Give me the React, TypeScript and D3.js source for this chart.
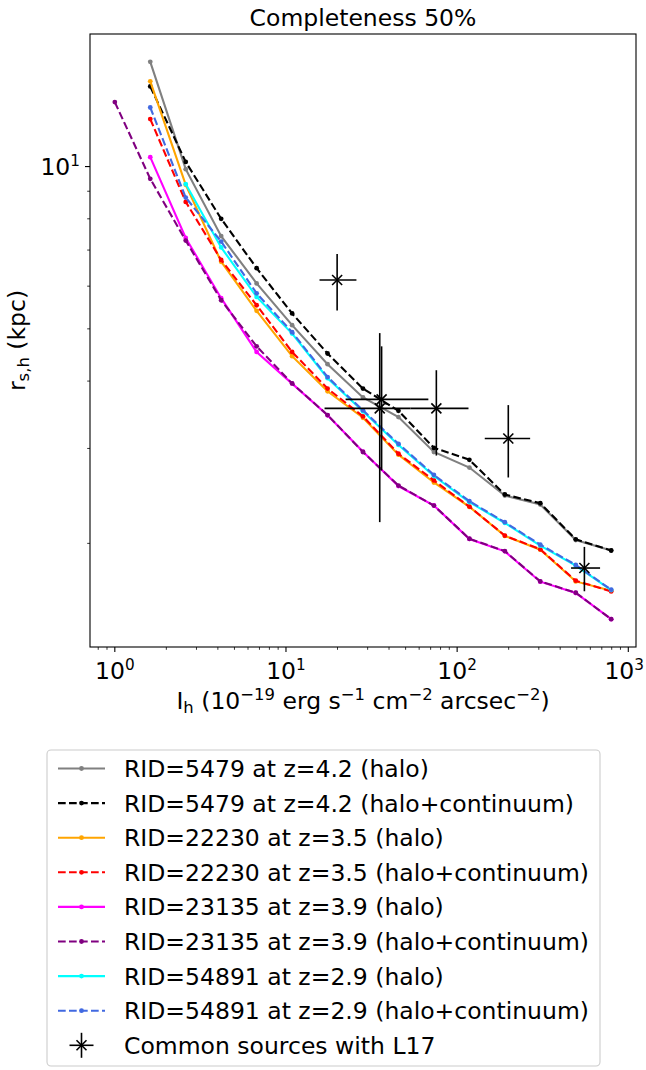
import React from "react";
import * as d3 from "d3";

// ---------- data ----------
const X_VALUES = [1.0, 1.611, 2.596, 4.182, 6.739, 10.86, 17.5, 28.18, 45.41, 73.17, 117.9, 190.0, 306.0, 493.1, 794.3];

const Y_5479_HALO = [null, 15.64, 9.89, 7.43, 6.07, 5.08, 4.3, 3.73, 3.43, 2.955, 2.765, 2.453, 2.361, 2.029, 1.939];
const Y_5479_CONT = [null, 14.08, 10.2, 8.0, 6.48, 5.34, 4.5, 3.874, 3.523, 3.007, 2.858, 2.464, 2.374, 2.035, 1.94];
const Y_22230_HALO = [null, 14.39, 9.25, 6.66, 5.4, 4.45, 3.83, 3.42, 2.921, 2.594, 2.338, 2.065, 1.947, 1.7, 1.634];
const Y_22230_CONT = [null, 12.25, 8.6, 6.71, 5.53, 4.53, 3.874, 3.44, 2.933, 2.617, 2.34, 2.067, 1.95, 1.705, 1.629];
const Y_23135_HALO = [null, 10.41, 7.37, 5.7, 4.53, 3.957, 3.456, 2.958, 2.555, 2.351, 2.038, 1.933, 1.698, 1.618, 1.447];
const Y_23135_CONT = [13.17, 9.49, 7.29, 5.65, 4.64, 3.96, 3.46, 2.955, 2.56, 2.35, 2.04, 1.935, 1.7, 1.62, 1.447];
const Y_54891_HALO = [null, null, 9.28, 7.08, 5.73, 4.9, 4.05, 3.516, 3.045, 2.667, 2.386, 2.182, 1.981, 1.818, 1.638];
const Y_54891_CONT = [null, 12.87, 8.76, 7.26, 5.82, 4.93, 4.07, 3.53, 3.06, 2.679, 2.395, 2.189, 1.989, 1.824, 1.641];

const SERIES_LABELS = [
  "RID=5479 at z=4.2 (halo)",
  "RID=5479 at z=4.2 (halo+continuum)",
  "RID=22230 at z=3.5 (halo)",
  "RID=22230 at z=3.5 (halo+continuum)",
  "RID=23135 at z=3.9 (halo)",
  "RID=23135 at z=3.9 (halo+continuum)",
  "RID=54891 at z=2.9 (halo)",
  "RID=54891 at z=2.9 (halo+continuum)",
];
const SERIES_VALUES = [Y_5479_HALO, Y_5479_CONT, Y_22230_HALO, Y_22230_CONT, Y_23135_HALO, Y_23135_CONT, Y_54891_HALO, Y_54891_CONT];
const SERIES_COLORS = ["#808080", "#000000", "#FFA500", "#FF0000", "#FF00FF", "#800080", "#00FFFF", "#4169E1"];
const SERIES_DASHED = [false, true, false, true, false, true, false, true];

// L17 common sources
const L17_X = [19.9, 36.2, 35.3, 75.6, 199, 554];
const L17_Y = [6.16, 3.7, 3.56, 3.56, 3.13, 1.8];
const L17_X_LOW = [15.7, 22.3, 16.8, 53.5, 145, 463];
const L17_X_HIGH = [25.8, 67.9, 53.5, 116.5, 267, 684];
const L17_Y_LOW = [5.41, 2.73, 2.19, 2.91, 2.65, 1.63];
const L17_Y_HIGH = [6.88, 4.64, 4.91, 4.19, 3.61, 1.97];
const L17_LABEL = "Common sources with L17";

const TITLE = "Completeness 50%";
const X_MAJOR = [1, 10, 100, 1000];
const X_MAJOR_EXP = ["0", "1", "2", "3"];
const Y_MAJOR = [10];
const Y_MAJOR_EXP = ["1"];

// ---------- layout ----------
const W = 646;
const H = 1070;
const PL = 90, PR = 636, PT = 34, PB = 647;
const FONT = "DejaVu Sans";
const FS = 23.5;

function logMargin(lo: number, hi: number, f = 0.05): [number, number] {
  const a = Math.log10(lo), b = Math.log10(hi);
  const m = (b - a) * f;
  return [Math.pow(10, a - m), Math.pow(10, b + m)];
}

export default function App() {
  const allY: number[] = [];
  SERIES_VALUES.forEach((s) => s.forEach((v) => { if (v != null) allY.push(v as number); }));
  const xDom = logMargin(d3.min(X_VALUES)!, d3.max(X_VALUES)!);
  const yDom = logMargin(d3.min(allY)!, d3.max(allY)!);
  const x = d3.scaleLog().domain(xDom).range([PL, PR]);
  const y = d3.scaleLog().domain(yDom).range([PB, PT]);

  const xMinor: number[] = [];
  for (let e = -1; e <= 3; e++) for (let k = 2; k <= 9; k++) {
    const v = k * Math.pow(10, e);
    if (v >= xDom[0] && v <= xDom[1]) xMinor.push(v);
  }
  const yMinor: number[] = [];
  for (let e = 0; e <= 1; e++) for (let k = 2; k <= 9; k++) {
    const v = k * Math.pow(10, e);
    if (v >= yDom[0] && v <= yDom[1]) yMinor.push(v);
  }

  const line = d3.line<[number, number]>().x((d) => x(d[0])).y((d) => y(d[1]));

  const seriesPts = SERIES_VALUES.map((s) =>
    s.map((v, i) => [X_VALUES[i], v] as [number, number | null]).filter((d) => d[1] != null) as [number, number][]
  );

  const dash = "7.7 3.3";
  const lw = 2.1;
  const mr = 2.4;

  const legX = 47, legY = 750, legW = 553, legH = 316;
  const rowY0 = 768.5, rowStep = 34.6;
  const hx0 = 58, hx1 = 105, tx = 124;

  const xMark = (cx: number, cy: number, s: number, key: string) => (
    <g key={key} stroke="#000" strokeWidth={1.6}>
      <line x1={cx - s} y1={cy - s} x2={cx + s} y2={cy + s} />
      <line x1={cx - s} y1={cy + s} x2={cx + s} y2={cy - s} />
    </g>
  );

  // approximate half width of a "10^k" label, used to keep the last label inside the canvas
  const tickLabelHalf = (FS * 0.636 * 2 + FS * 0.65 * 0.636) / 2;

  return (
    <svg width={W} height={H} style={{ position: "absolute", left: 0, top: 0 }} fontFamily={FONT}>
      <rect x={0} y={0} width={W} height={H} fill="#fff" />
      {/* title */}
      <text x={(PL + PR) / 2} y={26} textAnchor="middle" fontSize={FS} fill="#000">{TITLE}</text>

      {/* series */}
      {seriesPts.map((pts, si) => (
        <g key={"s" + si}>
          <path d={line(pts) || ""} fill="none" stroke={SERIES_COLORS[si]} strokeWidth={lw}
            strokeDasharray={SERIES_DASHED[si] ? dash : undefined} />
          {pts.map((p, i) => (
            <circle key={i} cx={x(p[0])} cy={y(p[1])} r={mr} fill={SERIES_COLORS[si]} />
          ))}
        </g>
      ))}

      {/* L17 errorbars */}
      {L17_X.map((xv, i) => (
        <g key={"e" + i}>
          <line x1={x(L17_X_LOW[i])} x2={x(L17_X_HIGH[i])} y1={y(L17_Y[i])} y2={y(L17_Y[i])} stroke="#000" strokeWidth={1.6} />
          <line x1={x(xv)} x2={x(xv)} y1={y(L17_Y_LOW[i])} y2={y(L17_Y_HIGH[i])} stroke="#000" strokeWidth={1.6} />
          {xMark(x(xv), y(L17_Y[i]), 5, "m" + i)}
        </g>
      ))}

      {/* frame */}
      <rect x={PL} y={PT} width={PR - PL} height={PB - PT} fill="none" stroke="#000" strokeWidth={1.1} />

      {/* x ticks */}
      {X_MAJOR.map((v, i) => {
        const cx = Math.min(x(v), W - 2 - tickLabelHalf);
        return (
          <g key={"xt" + i}>
            <line x1={x(v)} x2={x(v)} y1={PB} y2={PB + 5} stroke="#000" strokeWidth={1.1} />
            <text x={cx} y={679} textAnchor="middle" fontSize={FS} fill="#000">
              <tspan>10</tspan>
              <tspan dy={-9} fontSize={FS * 0.65}>{X_MAJOR_EXP[i]}</tspan>
            </text>
          </g>
        );
      })}
      {xMinor.map((v, i) => (
        <line key={"xm" + i} x1={x(v)} x2={x(v)} y1={PB} y2={PB + 2.8} stroke="#000" strokeWidth={0.8} />
      ))}

      {/* y ticks */}
      {Y_MAJOR.map((v, i) => (
        <g key={"yt" + i}>
          <line x1={PL - 5} x2={PL} y1={y(v)} y2={y(v)} stroke="#000" strokeWidth={1.1} />
          <text x={80} y={y(v) + 8.5} textAnchor="end" fontSize={FS} fill="#000">
            <tspan>10</tspan>
            <tspan dy={-9} fontSize={FS * 0.65}>{Y_MAJOR_EXP[i]}</tspan>
          </text>
        </g>
      ))}
      {yMinor.map((v, i) => (
        <line key={"ym" + i} x1={PL - 2.8} x2={PL} y1={y(v)} y2={y(v)} stroke="#000" strokeWidth={0.8} />
      ))}

      {/* axis labels */}
      <text x={(PL + PR) / 2} y={709} textAnchor="middle" fontSize={FS} fill="#000">
        <tspan>I</tspan>
        <tspan dy={4} fontSize={FS * 0.7}>h</tspan>
        <tspan dy={-4}> (10</tspan>
        <tspan dy={-9} fontSize={FS * 0.7}>−19</tspan>
        <tspan dy={9}> erg s</tspan>
        <tspan dy={-9} fontSize={FS * 0.7}>−1</tspan>
        <tspan dy={9}> cm</tspan>
        <tspan dy={-9} fontSize={FS * 0.7}>−2</tspan>
        <tspan dy={9}> arcsec</tspan>
        <tspan dy={-9} fontSize={FS * 0.7}>−2</tspan>
        <tspan dy={9}>)</tspan>
      </text>
      <text transform={`translate(25,${(PT + PB) / 2}) rotate(-90)`} textAnchor="middle" fontSize={FS} fill="#000">
        <tspan>r</tspan>
        <tspan dy={4} fontSize={FS * 0.7}>s,h</tspan>
        <tspan dy={-4}> (kpc)</tspan>
      </text>

      {/* legend */}
      <rect x={legX} y={legY} width={legW} height={legH} rx={4} fill="#fff" fillOpacity={0.8} stroke="#cccccc" strokeWidth={1.1} />
      {SERIES_LABELS.map((lab, i) => {
        const ry = rowY0 + i * rowStep;
        return (
          <g key={"l" + i}>
            <line x1={hx0} x2={hx1} y1={ry} y2={ry} stroke={SERIES_COLORS[i]} strokeWidth={lw}
              strokeDasharray={SERIES_DASHED[i] ? dash : undefined} />
            <circle cx={(hx0 + hx1) / 2} cy={ry} r={mr} fill={SERIES_COLORS[i]} />
            <text x={tx} y={ry + 8.5} fontSize={FS} fill="#000">{lab}</text>
          </g>
        );
      })}
      {(() => {
        const ry = rowY0 + 8 * rowStep;
        const cx = (hx0 + hx1) / 2;
        return (
          <g>
            <line x1={cx} x2={cx} y1={ry - 12.5} y2={ry + 12.5} stroke="#000" strokeWidth={1.6} />
            <line x1={cx - 12} x2={cx + 12} y1={ry} y2={ry} stroke="#000" strokeWidth={1.6} />
            {xMark(cx, ry, 5, "lm")}
            <text x={tx} y={ry + 8.5} fontSize={FS} fill="#000">{L17_LABEL}</text>
          </g>
        );
      })()}
    </svg>
  );
}
